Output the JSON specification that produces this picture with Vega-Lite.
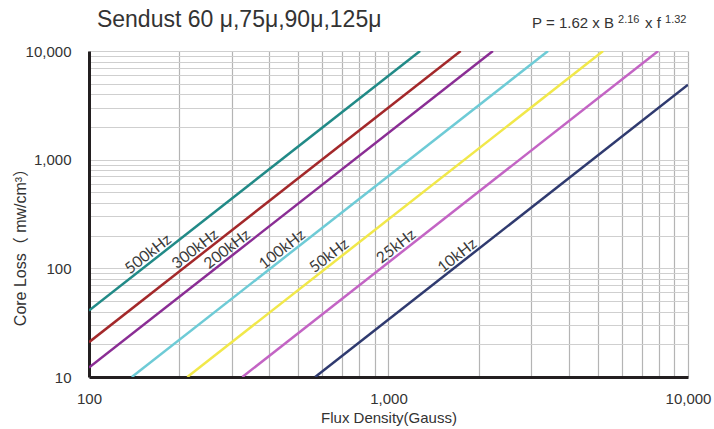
{
  "$schema": "https://vega.github.io/schema/vega-lite/v6.json",
  "width": 599,
  "height": 326,
  "autosize": "none",
  "padding": {"left": 89, "top": 51, "right": 26, "bottom": 52},
  "background": "white",
  "config": {
    "view": {"stroke": null},
    "axis": {
      "labelFont": "Liberation Sans",
      "titleFont": "Liberation Sans, 'Noto Sans CJK SC'",
      "labelFontSize": 15,
      "titleFontSize": 15,
      "titleFontWeight": "normal",
      "labelColor": "#333333",
      "titleColor": "#333333",
      "domainColor": "#231f20",
      "domainWidth": 3,
      "ticks": false,
      "grid": true,
      "labelFlush": false,
      "labelOverlap": false
    }
  },
  "datasets": {
    "lines": [
      {"freq": "500kHz", "B": 100, "P": 40.9},
      {"freq": "500kHz", "B": 1275, "P": 10000},
      {"freq": "300kHz", "B": 100, "P": 20.9},
      {"freq": "300kHz", "B": 1742, "P": 10000},
      {"freq": "200kHz", "B": 100, "P": 12.2},
      {"freq": "200kHz", "B": 2232, "P": 10000},
      {"freq": "100kHz", "B": 139, "P": 10},
      {"freq": "100kHz", "B": 3410, "P": 10000},
      {"freq": "50kHz", "B": 213, "P": 10},
      {"freq": "50kHz", "B": 5207, "P": 10000},
      {"freq": "25kHz", "B": 325, "P": 10},
      {"freq": "25kHz", "B": 7955, "P": 10000},
      {"freq": "10kHz", "B": 569, "P": 10},
      {"freq": "10kHz", "B": 10000, "P": 4890}
    ],
    "labels": [
      {"label": "500kHz", "B": 163.6, "P": 118.6},
      {"label": "300kHz", "B": 234.8, "P": 131.8},
      {"label": "200kHz", "B": 300.2, "P": 131.3},
      {"label": "100kHz", "B": 458.3, "P": 131.1},
      {"label": "50kHz", "B": 657.7, "P": 114.6},
      {"label": "25kHz", "B": 1101, "P": 139.6},
      {"label": "10kHz", "B": 1760, "P": 114.8}
    ]
  },
  "layer": [
    {
      "data": {"name": "lines"},
      "mark": {"type": "line", "strokeWidth": 2.5, "clip": true},
      "encoding": {
        "x": {
          "field": "B",
          "type": "quantitative",
          "scale": {"type": "log", "domain": [100, 10000]},
          "axis": {
            "values": [100, 200, 300, 400, 500, 600, 700, 800, 900, 1000, 2000, 3000, 4000, 5000, 6000, 7000, 8000, 9000, 10000],
            "labelExpr": "abs(log(datum.value)/LN10 - round(log(datum.value)/LN10)) < 0.000001 ? format(datum.value, ',') : ''",
            "title": "Flux Density(Gauss)",
            "gridColor": "#b4b4b4",
            "gridWidth": 1.2,
            "labelPadding": 14,
            "titlePadding": 4
          }
        },
        "y": {
          "field": "P",
          "type": "quantitative",
          "scale": {"type": "log", "domain": [10, 10000]},
          "axis": {
            "values": [10, 20, 30, 40, 50, 60, 70, 80, 90, 100, 200, 300, 400, 500, 600, 700, 800, 900, 1000, 2000, 3000, 4000, 5000, 6000, 7000, 8000, 9000, 10000],
            "labelExpr": "abs(log(datum.value)/LN10 - round(log(datum.value)/LN10)) < 0.000001 ? format(datum.value, ',') : ''",
            "title": "Core Loss（ mw/cm³）",
            "titleFontSize": 16,
            "gridColor": "#cfcfcf",
            "gridWidth": 1.2,
            "labelPadding": 18,
            "titleX": -61,
            "titleY": 192
          }
        },
        "color": {
          "field": "freq",
          "type": "nominal",
          "scale": {
            "domain": ["500kHz", "300kHz", "200kHz", "100kHz", "50kHz", "25kHz", "10kHz"],
            "range": ["#218a87", "#a3282a", "#8a2d94", "#6ecbd6", "#f1e84a", "#c364c4", "#2f3a6f"]
          },
          "legend": null
        }
      }
    },
    {
      "data": {"name": "labels"},
      "mark": {"type": "text", "angle": -38, "font": "Lato", "fontSize": 15.5, "baseline": "alphabetic", "align": "center", "dy": -3, "fill": "#3a3a3a"},
      "encoding": {
        "x": {"field": "B", "type": "quantitative"},
        "y": {"field": "P", "type": "quantitative"},
        "text": {"field": "label"}
      }
    },
    {
      "data": {"values": [{"t": "Sendust 60 μ,75μ,90μ,125μ"}]},
      "mark": {"type": "text", "align": "left", "baseline": "alphabetic", "font": "Liberation Sans", "fontSize": 23, "fill": "#333333"},
      "encoding": {"x": {"datum": 106.3}, "y": {"datum": 16630}, "text": {"field": "t"}}
    },
    {
      "data": {"values": [{"t": "P = 1.62 x B"}]},
      "mark": {"type": "text", "align": "right", "baseline": "alphabetic", "font": "Liberation Sans", "fontSize": 15, "fill": "#333333"},
      "encoding": {"x": {"datum": 5660}, "y": {"datum": 16280}, "text": {"field": "t"}}
    },
    {
      "data": {"values": [{"t": "2.16"}]},
      "mark": {"type": "text", "align": "left", "baseline": "alphabetic", "font": "Liberation Sans", "fontSize": 11, "fill": "#333333"},
      "encoding": {"x": {"datum": 5840}, "y": {"datum": 18100}, "text": {"field": "t"}}
    },
    {
      "data": {"values": [{"t": "x f"}]},
      "mark": {"type": "text", "align": "left", "baseline": "alphabetic", "font": "Liberation Sans", "fontSize": 15, "fill": "#333333"},
      "encoding": {"x": {"datum": 7184}, "y": {"datum": 16280}, "text": {"field": "t"}}
    },
    {
      "data": {"values": [{"t": "1.32"}]},
      "mark": {"type": "text", "align": "left", "baseline": "alphabetic", "font": "Liberation Sans", "fontSize": 11, "fill": "#333333"},
      "encoding": {"x": {"datum": 8380}, "y": {"datum": 18100}, "text": {"field": "t"}}
    }
  ]
}
